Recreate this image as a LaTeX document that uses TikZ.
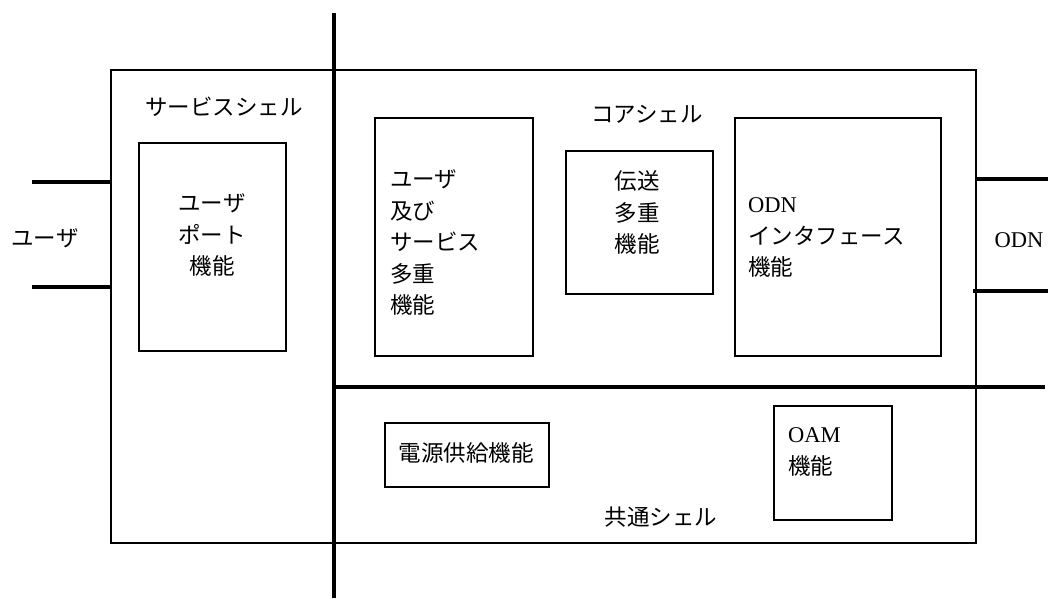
\documentclass[tikz,border=0pt]{standalone}
\usepackage{fontspec}
\setmainfont{Liberation Serif}
\newfontfamily\jp{Noto Sans CJK JP}
\tikzset{
  thinbox/.style={draw, line width=1.5pt, inner sep=0pt, anchor=north west},
  thickline/.style={line width=4.5pt},
  lbl/.style={inner sep=0pt, font=\fontsize{22.5}{31.5}\selectfont},
}
\begin{document}
\begin{tikzpicture}[x=1pt,y=-1pt]
\useasboundingbox (0,0) rectangle (1048,598);
% outer shell
\node[thinbox, minimum width=865pt, minimum height=473pt] (outer) at (110,69) {};
% thick separators
\coordinate (vtop) at (334,13);
\coordinate (vbot) at (334,598);
\coordinate (hl) at (334,387);
\coordinate (hr) at (1045,387);
\draw[thickline] (vtop) -- (vbot);
\draw[thickline] (hl) -- (hr);
% stubs
\coordinate (l1a) at (32,182); \coordinate (l1b) at (110,182);
\coordinate (l2a) at (32,287); \coordinate (l2b) at (110,287);
\coordinate (r1a) at (975,179); \coordinate (r1b) at (1048,179);
\coordinate (r2a) at (973,291); \coordinate (r2b) at (1048,291);
\draw[thickline] (l1a) -- (l1b);
\draw[thickline] (l2a) -- (l2b);
\draw[thickline] (r1a) -- (r1b);
\draw[thickline] (r2a) -- (r2b);
% outside labels
\node[lbl] (user) at (45,238) {\jp ユーザ};
\node[lbl] (odn) at (1019,240) {ODN};
% shell labels
\node[lbl] (svc) at (224,107) {\jp サービスシェル};
\node[lbl] (core) at (647,114) {\jp コアシェル};
\node[lbl] (common) at (661,517) {\jp 共通シェル};
% boxes
\node[thinbox, minimum width=147pt, minimum height=208pt] (upbox) at (138,142) {};
\node[lbl, align=center] (uptxt) at (212,235) {\jp ユーザ\\\jp ポート\\\jp 機能};
\node[thinbox, minimum width=158pt, minimum height=238pt] (usbox) at (374,117) {};
\node[lbl, align=left, anchor=west] (ustxt) at (390,242.5) {\jp ユーザ\\\jp 及び\\\jp サービス\\\jp 多重\\\jp 機能};
\node[thinbox, minimum width=147pt, minimum height=143pt] (tmbox) at (565,150) {};
\node[lbl, align=center] (tmtxt) at (637,212.5) {\jp 伝送\\\jp 多重\\\jp 機能};
\node[thinbox, minimum width=206pt, minimum height=238pt] (odnbox) at (734,117) {};
\node[lbl, align=left, anchor=west] (odntxt) at (748,237.5) {ODN\\\jp インタフェース\\\jp 機能};
\node[thinbox, minimum width=164pt, minimum height=64pt] (pwbox) at (384,422) {};
\node[lbl] (pwtxt) at (466,453) {\jp 電源供給機能};
\node[thinbox, minimum width=118pt, minimum height=114pt] (oambox) at (773,405) {};
\node[lbl, align=left, anchor=west] (oamtxt) at (788,452) {OAM\\\jp 機能};
\end{tikzpicture}
\end{document}
